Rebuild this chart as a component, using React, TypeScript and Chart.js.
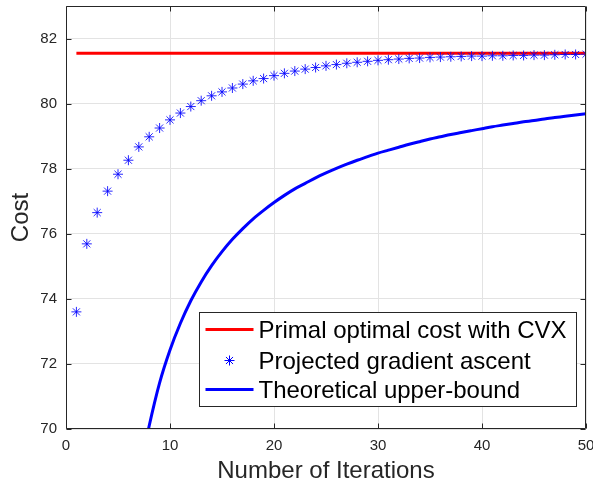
import React, { useEffect, useRef } from 'react';
import { Chart, registerables } from 'chart.js';

Chart.register(...registerables);

// ---- data ----
const iterations = [1, 2, 3, 4, 5, 6, 7, 8, 9, 10, 11, 12, 13, 14, 15, 16, 17, 18, 19, 20, 21, 22, 23, 24, 25, 26, 27, 28, 29, 30, 31, 32, 33, 34, 35, 36, 37, 38, 39, 40, 41, 42, 43, 44, 45, 46, 47, 48, 49, 50];
const pgaCost = [73.60, 75.69, 76.65, 77.31, 77.83, 78.26, 78.67, 78.98, 79.25, 79.50, 79.71, 79.91, 80.09, 80.24, 80.36, 80.48, 80.60, 80.70, 80.77, 80.86, 80.93, 81.00, 81.06, 81.11, 81.16, 81.20, 81.24, 81.27, 81.30, 81.33, 81.35, 81.37, 81.39, 81.40, 81.42, 81.43, 81.44, 81.45, 81.46, 81.46, 81.47, 81.47, 81.48, 81.48, 81.49, 81.49, 81.50, 81.51, 81.51, 81.52];
const cvxIterations = [1, 50];
const cvxCost = [81.55, 81.55];
const boundIterations = [7, 8, 9, 10, 11, 12, 13, 14, 15, 16, 17, 18, 19, 20, 21, 22, 23, 24, 25, 26, 27, 28, 29, 30, 31, 32, 33, 34, 35, 36, 37, 38, 39, 40, 41, 42, 43, 44, 45, 46, 47, 48, 49, 50];
const boundCost = [68.54, 70.10, 71.42, 72.43, 73.25, 73.94, 74.52, 75.02, 75.45, 75.83, 76.16, 76.46, 76.72, 76.96, 77.18, 77.38, 77.55, 77.72, 77.87, 78.01, 78.14, 78.26, 78.37, 78.48, 78.57, 78.66, 78.75, 78.83, 78.91, 78.98, 79.05, 79.11, 79.17, 79.23, 79.29, 79.34, 79.39, 79.44, 79.48, 79.53, 79.57, 79.61, 79.65, 79.69];
const xTicks = [0, 10, 20, 30, 40, 50];
const yTicks = [70, 72, 74, 76, 78, 80, 82];
const legendLabels = ['Primal optimal cost with CVX', 'Projected gradient ascent', 'Theoretical upper-bound'];
const xTitle = 'Number of Iterations';
const yTitle = 'Cost';

const FONT = "'Liberation Sans', Arial, Helvetica, sans-serif";
const AXIS_COLOR = '#262626';
const RED = '#ff0000';
const BLUE = '#0000ff';

const boxPlugin = {
  id: 'matlabBox',
  afterDatasetsDraw(chart: any) {
    const { ctx, chartArea: a, scales } = chart;
    ctx.save();
    ctx.strokeStyle = AXIS_COLOR;
    ctx.lineWidth = 1;
    const L = Math.round(a.left) + 0.5, R = Math.round(a.right) - 0.5;
    const T = Math.round(a.top) + 0.5, B = Math.round(a.bottom) - 0.5;
    ctx.beginPath();
    ctx.rect(L, T, R - L, B - T);
    const tl = 5;
    for (const v of yTicks) {
      const y = Math.round(scales.y.getPixelForValue(v)) + 0.5;
      ctx.moveTo(L, y); ctx.lineTo(L + tl, y);
      ctx.moveTo(R, y); ctx.lineTo(R - tl, y);
    }
    for (const v of xTicks) {
      const x = Math.round(scales.x.getPixelForValue(v)) + 0.5;
      ctx.moveTo(x, B); ctx.lineTo(x, B - tl);
      ctx.moveTo(x, T); ctx.lineTo(x, T + tl);
    }
    ctx.stroke();
    ctx.restore();
  },
  afterDraw(chart: any) {
    const { ctx, chartArea: a } = chart;
    ctx.save();
    const bw = 377, bh = 94;
    const bx = Math.round(a.right - 10 - bw) + 0.5;
    const by = Math.round(a.bottom - 23 - bh) + 0.5;
    ctx.fillStyle = '#ffffff';
    ctx.fillRect(bx, by, bw, bh);
    ctx.strokeStyle = AXIS_COLOR;
    ctx.lineWidth = 1;
    ctx.strokeRect(bx, by, bw, bh);
    const rowY = [by + 17, by + 48, by + 77];
    const sx0 = bx + 6, sx1 = bx + 54, tx = bx + 59;
    ctx.strokeStyle = RED; ctx.lineWidth = 3;
    ctx.beginPath(); ctx.moveTo(sx0, rowY[0]); ctx.lineTo(sx1, rowY[0]); ctx.stroke();
    const cx = (sx0 + sx1) / 2, cy = rowY[1], r = 5;
    ctx.strokeStyle = BLUE; ctx.lineWidth = 1;
    ctx.beginPath();
    ctx.moveTo(cx - r, cy); ctx.lineTo(cx + r, cy);
    ctx.moveTo(cx, cy - r); ctx.lineTo(cx, cy + r);
    const d = r * Math.SQRT1_2;
    ctx.moveTo(cx - d, cy - d); ctx.lineTo(cx + d, cy + d);
    ctx.moveTo(cx - d, cy + d); ctx.lineTo(cx + d, cy - d);
    ctx.stroke();
    ctx.strokeStyle = BLUE; ctx.lineWidth = 3;
    ctx.beginPath(); ctx.moveTo(sx0, rowY[2]); ctx.lineTo(sx1, rowY[2]); ctx.stroke();
    ctx.fillStyle = '#000000';
    ctx.font = `24px ${FONT}`;
    ctx.textAlign = 'left';
    ctx.textBaseline = 'alphabetic';
    legendLabels.forEach((t, i) => ctx.fillText(t, tx, rowY[i] + 8.6));
    ctx.restore();
  },
};

const zeroPad = (s: any) => {
  s.paddingTop = 0;
  s.paddingBottom = 0;
  s.paddingLeft = 0;
  s.paddingRight = 0;
};

export default function App() {
  const ref = useRef<HTMLCanvasElement>(null);
  useEffect(() => {
    if (!ref.current) return;
    const chart = new Chart(ref.current, {
      type: 'scatter',
      data: {
        datasets: [
          {
            label: legendLabels[0],
            type: 'line',
            data: cvxIterations.map((x, i) => ({ x, y: cvxCost[i] })),
            borderColor: RED,
            backgroundColor: RED,
            borderWidth: 3,
            pointRadius: 0,
            showLine: true,
            fill: false,
            order: 3,
          },
          {
            label: legendLabels[1],
            type: 'scatter',
            data: iterations.map((x, i) => ({ x, y: pgaCost[i] })),
            pointStyle: 'star',
            pointRadius: 5,
            pointBorderWidth: 1,
            borderColor: 'rgba(0,0,255,0.85)',
            backgroundColor: 'rgba(0,0,255,0.85)',
            showLine: false,
            order: 2,
          },
          {
            label: legendLabels[2],
            type: 'line',
            data: boundIterations.map((x, i) => ({ x, y: boundCost[i] })),
            borderColor: BLUE,
            backgroundColor: BLUE,
            borderWidth: 3,
            pointRadius: 0,
            showLine: true,
            fill: false,
            cubicInterpolationMode: 'monotone',
            order: 1,
          },
        ],
      } as any,
      options: {
        responsive: false,
        animation: false,
        events: [],
        layout: { padding: { left: 0, right: 7, top: 6, bottom: 0 }, autoPadding: false } as any,
        plugins: { legend: { display: false }, tooltip: { enabled: false }, title: { display: false } },
        scales: {
          x: {
            type: 'linear',
            min: 0,
            max: 50,
            afterBuildTicks: (s: any) => { s.ticks = xTicks.map((v) => ({ value: v })); },
            afterFit: (s: any) => { s.height = 57; zeroPad(s); },
            grid: { color: '#e3e3e3', lineWidth: 1, drawTicks: false },
            border: { display: false },
            ticks: { color: AXIS_COLOR, font: { family: FONT, size: 15 }, padding: 8, maxRotation: 0, autoSkip: false },
            title: { display: true, text: xTitle, color: AXIS_COLOR, font: { family: FONT, size: 24 }, padding: { top: 0, bottom: 0 } },
          },
          y: {
            type: 'linear',
            min: 70,
            max: 83,
            afterBuildTicks: (s: any) => { s.ticks = yTicks.map((v) => ({ value: v })); },
            afterFit: (s: any) => { s.width = 66; zeroPad(s); },
            grid: { color: '#e3e3e3', lineWidth: 1, drawTicks: false },
            border: { display: false },
            ticks: { color: AXIS_COLOR, font: { family: FONT, size: 15 }, padding: 9, autoSkip: false },
            title: { display: true, text: yTitle, color: AXIS_COLOR, font: { family: FONT, size: 24 }, padding: { top: 7, bottom: 0 } },
          },
        },
      } as any,
      plugins: [boxPlugin],
    });
    return () => chart.destroy();
  }, []);
  return (
    <div style={{ position: 'fixed', left: 0, top: 0, width: 593, height: 486, background: '#fff' }}>
      <canvas ref={ref} width={593} height={486} style={{ width: 593, height: 486, display: 'block' }} />
    </div>
  );
}
